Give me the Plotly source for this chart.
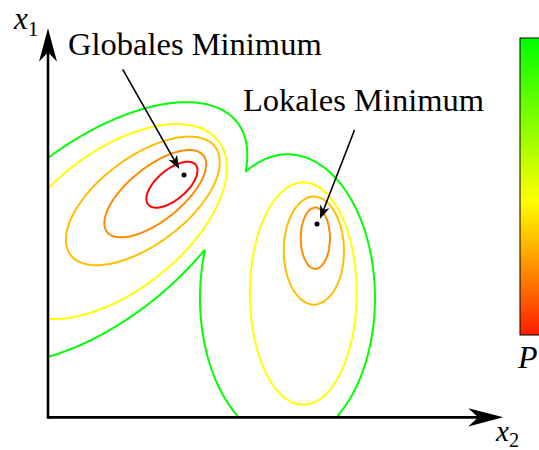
import numpy as np
import plotly.graph_objects as go

# ---------------- data (units: x2 right, x1 up) ----------------
contour_levels = [1, 2, 3, 4, 5]
contour_colors = ['#ff0000', '#ff8c00', '#ffbf00', '#ffff00', '#00ff00']

# global minimum basin: iso-level ellipses (level 0 = the minimum itself)
glob_level = [0, 1, 2, 3, 4, 5]
glob_cx = [3.022, 2.756, 2.382, 2.111, 1.487, 1.062]
glob_cy = [5.356, 5.140, 4.940, 4.782, 4.318, 4.071]
glob_a = [0.0, 0.689, 1.367, 2.007, 2.911, 3.987]
glob_b = [0.0, 0.333, 0.593, 0.969, 1.544, 1.967]
glob_th = [40, 40, 38.6, 36.6, 38, 38]

# local minimum basin (its bottom lies above level 1)
loc_level = [1.4, 2, 3, 4, 5]
loc_cx = [5.978, 5.940, 5.911, 5.673, 5.322]
loc_cy = [4.267, 3.951, 3.678, 2.716, 2.622]
loc_a = [0.0, 0.684, 1.196, 2.471, 3.193]
loc_b = [0.0, 0.327, 0.667, 1.184, 1.944]
loc_th = [90, 90, 90, 90, 90]

minima_x2 = [3.022, 5.978]
minima_x1 = [5.356, 4.267]
minima_names = ['Globales Minimum', 'Lokales Minimum']
label_x2 = [0.40, 4.289]
label_x1 = [8.262, 7.018]
pointer_tail_x2 = [1.660, 6.811]
pointer_tail_x1 = [7.704, 6.356]
pointer_tip_x2 = [2.918, 6.044]
pointer_tip_x1 = [5.489, 4.378]

colorbar_scale = [[0.0, '#ff1e00'], [0.22, '#ff8c00'], [0.45, '#ffff00'], [1.0, '#00ff00']]


def level_field(X, Y, lv, cx, cy, a, b, th, top=7.0, step=0.01):
    lv = np.asarray(lv, float)
    ls = np.arange(lv[0], top + step / 2, step)

    def ip(p):
        p = np.asarray(p, float)
        out = np.interp(ls, lv, p)
        k = (p[-1] - p[-2]) / (lv[-1] - lv[-2])
        m = ls > lv[-1]
        out[m] = p[-1] + k * (ls[m] - lv[-1])
        return out

    CX, CY, A, B, TH = (ip(p) for p in (cx, cy, a, b, th))
    F = np.full(X.shape, top)
    open_ = np.ones(X.shape, bool)
    r_prev = np.full(X.shape, np.inf)
    for i in range(1, len(ls)):
        t = np.radians(TH[i])
        dx = X - CX[i]
        dy = Y - CY[i]
        u = dx * np.cos(t) + dy * np.sin(t)
        v = -dx * np.sin(t) + dy * np.cos(t)
        r = np.hypot(u / A[i], v / B[i])
        hit = open_ & (r <= 1)
        with np.errstate(invalid='ignore', divide='ignore'):
            frac = np.where(np.isfinite(r_prev), (r_prev - 1) / np.maximum(r_prev - r, 1e-12), 1.0)
        F[hit] = ls[i - 1] + np.clip(frac[hit], 0, 1) * step
        open_ &= ~hit
        r_prev = r
    return F


gx = np.arange(0, 8.2, 1 / 30)
gy = np.arange(0, 7.6, 1 / 30)
GX, GY = np.meshgrid(gx, gy)
Pg = level_field(GX, GY, glob_level, glob_cx, glob_cy, glob_a, glob_b, glob_th)
Pl = level_field(GX, GY, loc_level, loc_cx, loc_cy, loc_a, loc_b, loc_th)
P = np.round(np.minimum(Pg, Pl), 3)

line_scale = [[(lv - contour_levels[0]) / (contour_levels[-1] - contour_levels[0]), c]
              for lv, c in zip(contour_levels, contour_colors)]

fig = go.Figure()
fig.add_trace(go.Contour(
    x=gx, y=gy, z=P, autocontour=False,
    contours=dict(start=contour_levels[0], end=contour_levels[-1], size=1, coloring='lines'),
    colorscale=line_scale, zmin=contour_levels[0], zmax=contour_levels[-1],
    line=dict(width=2), showscale=False, hoverinfo='skip'))

fig.add_trace(go.Scatter(
    x=minima_x2, y=minima_x1, mode='markers',
    marker=dict(color='black', size=5), hoverinfo='skip', showlegend=False))

# colour bar (cut by the right edge as in the original)
fig.add_trace(go.Scatter(
    x=[None], y=[None], mode='markers', showlegend=False, hoverinfo='skip',
    marker=dict(color=[0], cmin=0, cmax=1, colorscale=colorbar_scale, showscale=True,
                colorbar=dict(x=520 / 539, xanchor='left', xpad=0, ypad=0,
                              y=1 - 38 / 450, yanchor='top', len=297, lenmode='pixels',
                              thickness=30, outlinewidth=1, outlinecolor='black',
                              showticklabels=False, ticks='', borderwidth=0))))

serif = 'Liberation Serif, DejaVu Serif, serif'
ann = []
for name, lx, ly in zip(minima_names, label_x2, label_x1):
    ann.append(dict(x=lx, y=ly, text=name, showarrow=False, xanchor='left', yanchor='middle',
                    font=dict(family=serif, size=32.5, color='black')))
ann.append(dict(x=-0.489, y=8.778, text='<i>x</i><sub>1</sub>', showarrow=False,
                xanchor='center', yanchor='middle', font=dict(family=serif, size=31, color='black')))
ann.append(dict(x=10.2, y=-0.37, text='<i>x</i><sub>2</sub>', showarrow=False,
                xanchor='center', yanchor='middle', font=dict(family=serif, size=29, color='black')))
ann.append(dict(x=10.656, y=1.322, text='<i>P</i>', showarrow=False,
                xanchor='center', yanchor='middle', font=dict(family=serif, size=32, color='black')))


def stealth(tx, ty, dx, dy, length, half):
    """closed path of a stealth arrow head with tip (tx, ty) pointing along (dx, dy)"""
    n = np.hypot(dx, dy)
    ux, uy = dx / n, dy / n
    px, py = -uy, ux
    bx, by = tx - length * ux, ty - length * uy
    nx_, ny_ = tx - 0.72 * length * ux, ty - 0.72 * length * uy
    return (f'M {tx},{ty} L {bx + half * px},{by + half * py} L {nx_},{ny_} '
            f'L {bx - half * px},{by - half * py} Z')


shapes = []
# pointers to the minima
for x0, y0, x1, y1 in zip(pointer_tail_x2, pointer_tail_x1, pointer_tip_x2, pointer_tip_x1):
    dx, dy = x1 - x0, y1 - y0
    n = np.hypot(dx, dy)
    L = 0.30
    shapes.append(dict(type='line', xref='x', yref='y', x0=x0, y0=y0,
                       x1=x1 - 0.6 * L * dx / n, y1=y1 - 0.6 * L * dy / n,
                       line=dict(color='black', width=1.6)))
    shapes.append(dict(type='path', xref='x', yref='y', path=stealth(x1, y1, dx, dy, L, 0.11),
                       fillcolor='black', line=dict(width=0)))

ax_y = -0.03
shapes += [
    dict(type='line', xref='x', yref='y', x0=0, y0=ax_y - 0.03, x1=0, y1=8.1,
         line=dict(color='black', width=2.6)),
    dict(type='line', xref='x', yref='y', x0=0, y0=ax_y, x1=9.6, y1=ax_y,
         line=dict(color='black', width=2.6)),
    dict(type='path', xref='x', yref='y', path=stealth(0, 8.616, 0, 1, 0.743, 0.2),
         fillcolor='black', line=dict(width=0)),
    dict(type='path', xref='x', yref='y', path=stealth(10.118, ax_y, 1, 0, 0.778, 0.204),
         fillcolor='black', line=dict(width=0)),
]

fig.update_layout(
    width=539, height=450,
    margin=dict(l=0, r=0, t=0, b=0, pad=0, autoexpand=False),
    paper_bgcolor='white', plot_bgcolor='white',
    xaxis=dict(range=[-48 / 45, 491 / 45], visible=False, fixedrange=True),
    yaxis=dict(range=[-34 / 45, 416 / 45], visible=False, fixedrange=True),
    showlegend=False, annotations=ann, shapes=shapes,
)

fig.write_html("out.html", config=dict(displayModeBar=False),
               post_script="document.body.style.margin='0';")
